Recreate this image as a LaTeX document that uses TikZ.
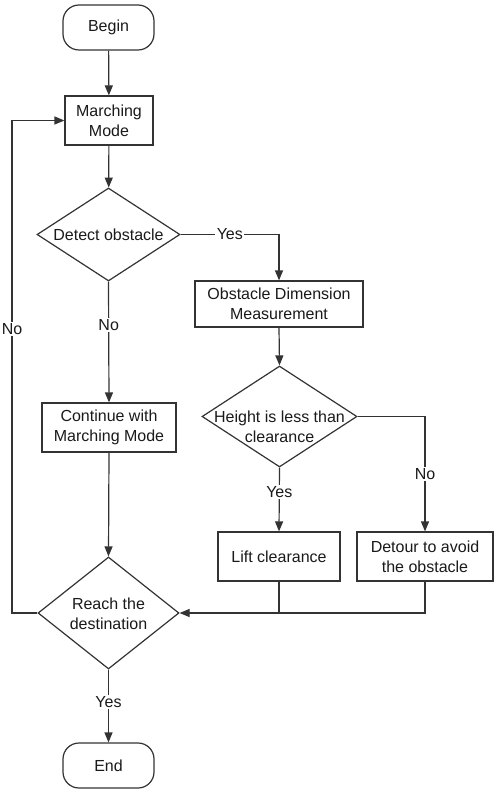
\documentclass[tikz,border=0pt]{standalone}
\usepackage{fontspec}
\setmainfont{Liberation Sans}
\usetikzlibrary{shapes.geometric,arrows.meta}
\definecolor{ln}{HTML}{333333}
\definecolor{tx}{HTML}{1A1A1A}
\begin{document}
\begin{tikzpicture}[x=1pt,y=-1pt,
  every node/.style={text=tx,font=\fontsize{16}{20}\selectfont,align=center},
  box/.style={draw=ln,line width=1.2pt,rectangle,inner sep=0pt},
  term/.style={draw=ln,line width=1.2pt,rectangle,rounded corners=16pt,inner sep=0pt,minimum width=91pt,minimum height=45pt},
  dia/.style={draw=ln,line width=1.2pt,diamond,inner sep=0pt,aspect=1},
  lbl/.style={fill=white,inner sep=1.5pt},
  arr/.style={draw=ln,line width=1.2pt,-{Triangle[length=10pt,width=8pt]}},
  ln/.style={draw=ln,line width=1.2pt}]
\useasboundingbox (0,0) rectangle (498,794);
\fill[white] (0,0) rectangle (498,794);
% nodes
\node[term] (begin) at (108.5,27.5) {Begin};
\node[box,minimum width=88pt,minimum height=49pt] (mm) at (109,120.5) {Marching\\Mode};
\node[dia,minimum width=143pt,minimum height=93pt] (detect) at (108.5,234.5) {};
\node (detectT) at (108.5,235) {Detect obstacle};
\node[box,minimum width=168pt,minimum height=46pt] (obst) at (279,304) {Obstacle Dimension\\Measurement};
\node[dia,minimum width=155pt,minimum height=101pt] (height) at (279.5,416.5) {};
\node (heightT) at (279.5,427) {Height is less than\\clearance};
\node[box,minimum width=134pt,minimum height=49pt] (cont) at (109,427.5) {Continue with\\Marching Mode};
\node[box,minimum width=122pt,minimum height=49pt] (lift) at (279,556.5) {Lift clearance};
\node[box,minimum width=136pt,minimum height=49pt] (detour) at (425,556.5) {Detour to avoid\\the obstacle};
\node[dia,minimum width=141pt,minimum height=112pt] (reach) at (108.5,613) {};
\node (reachT) at (108.5,614) {Reach the\\destination};
\node[term] (end) at (108.5,765.5) {End};
\coordinate (loop) at (12,613);
% connectors
\draw[arr] (begin) -- (mm);
\draw[arr] (mm) -- (detect);
\draw[arr] (detect.east) -| node[lbl,pos=0.25] {Yes} (obst.north);
\draw[arr] (detect.south) -- node[lbl,pos=0.36] {No} (cont.north);
\draw[arr] (cont.south) -- (reach.north);
\draw[arr] (obst.south) -- (height.north);
\draw[arr] (height.south) -- node[lbl,pos=0.38] {Yes} (lift.north);
\draw[arr] (height.east) -| node[lbl,pos=0.75] {No} (detour.north);
\draw[arr] (lift.south) |- (reach.east);
\draw[ln] (detour.south) |- (lift.south |- reach.east);
\draw[arr] (reach.west) -- (loop) |- node[lbl,pos=0.288] {No} (mm.west);
\draw[arr] (reach.south) -- node[lbl,pos=0.45] {Yes} (end.north);
\end{tikzpicture}
\end{document}
